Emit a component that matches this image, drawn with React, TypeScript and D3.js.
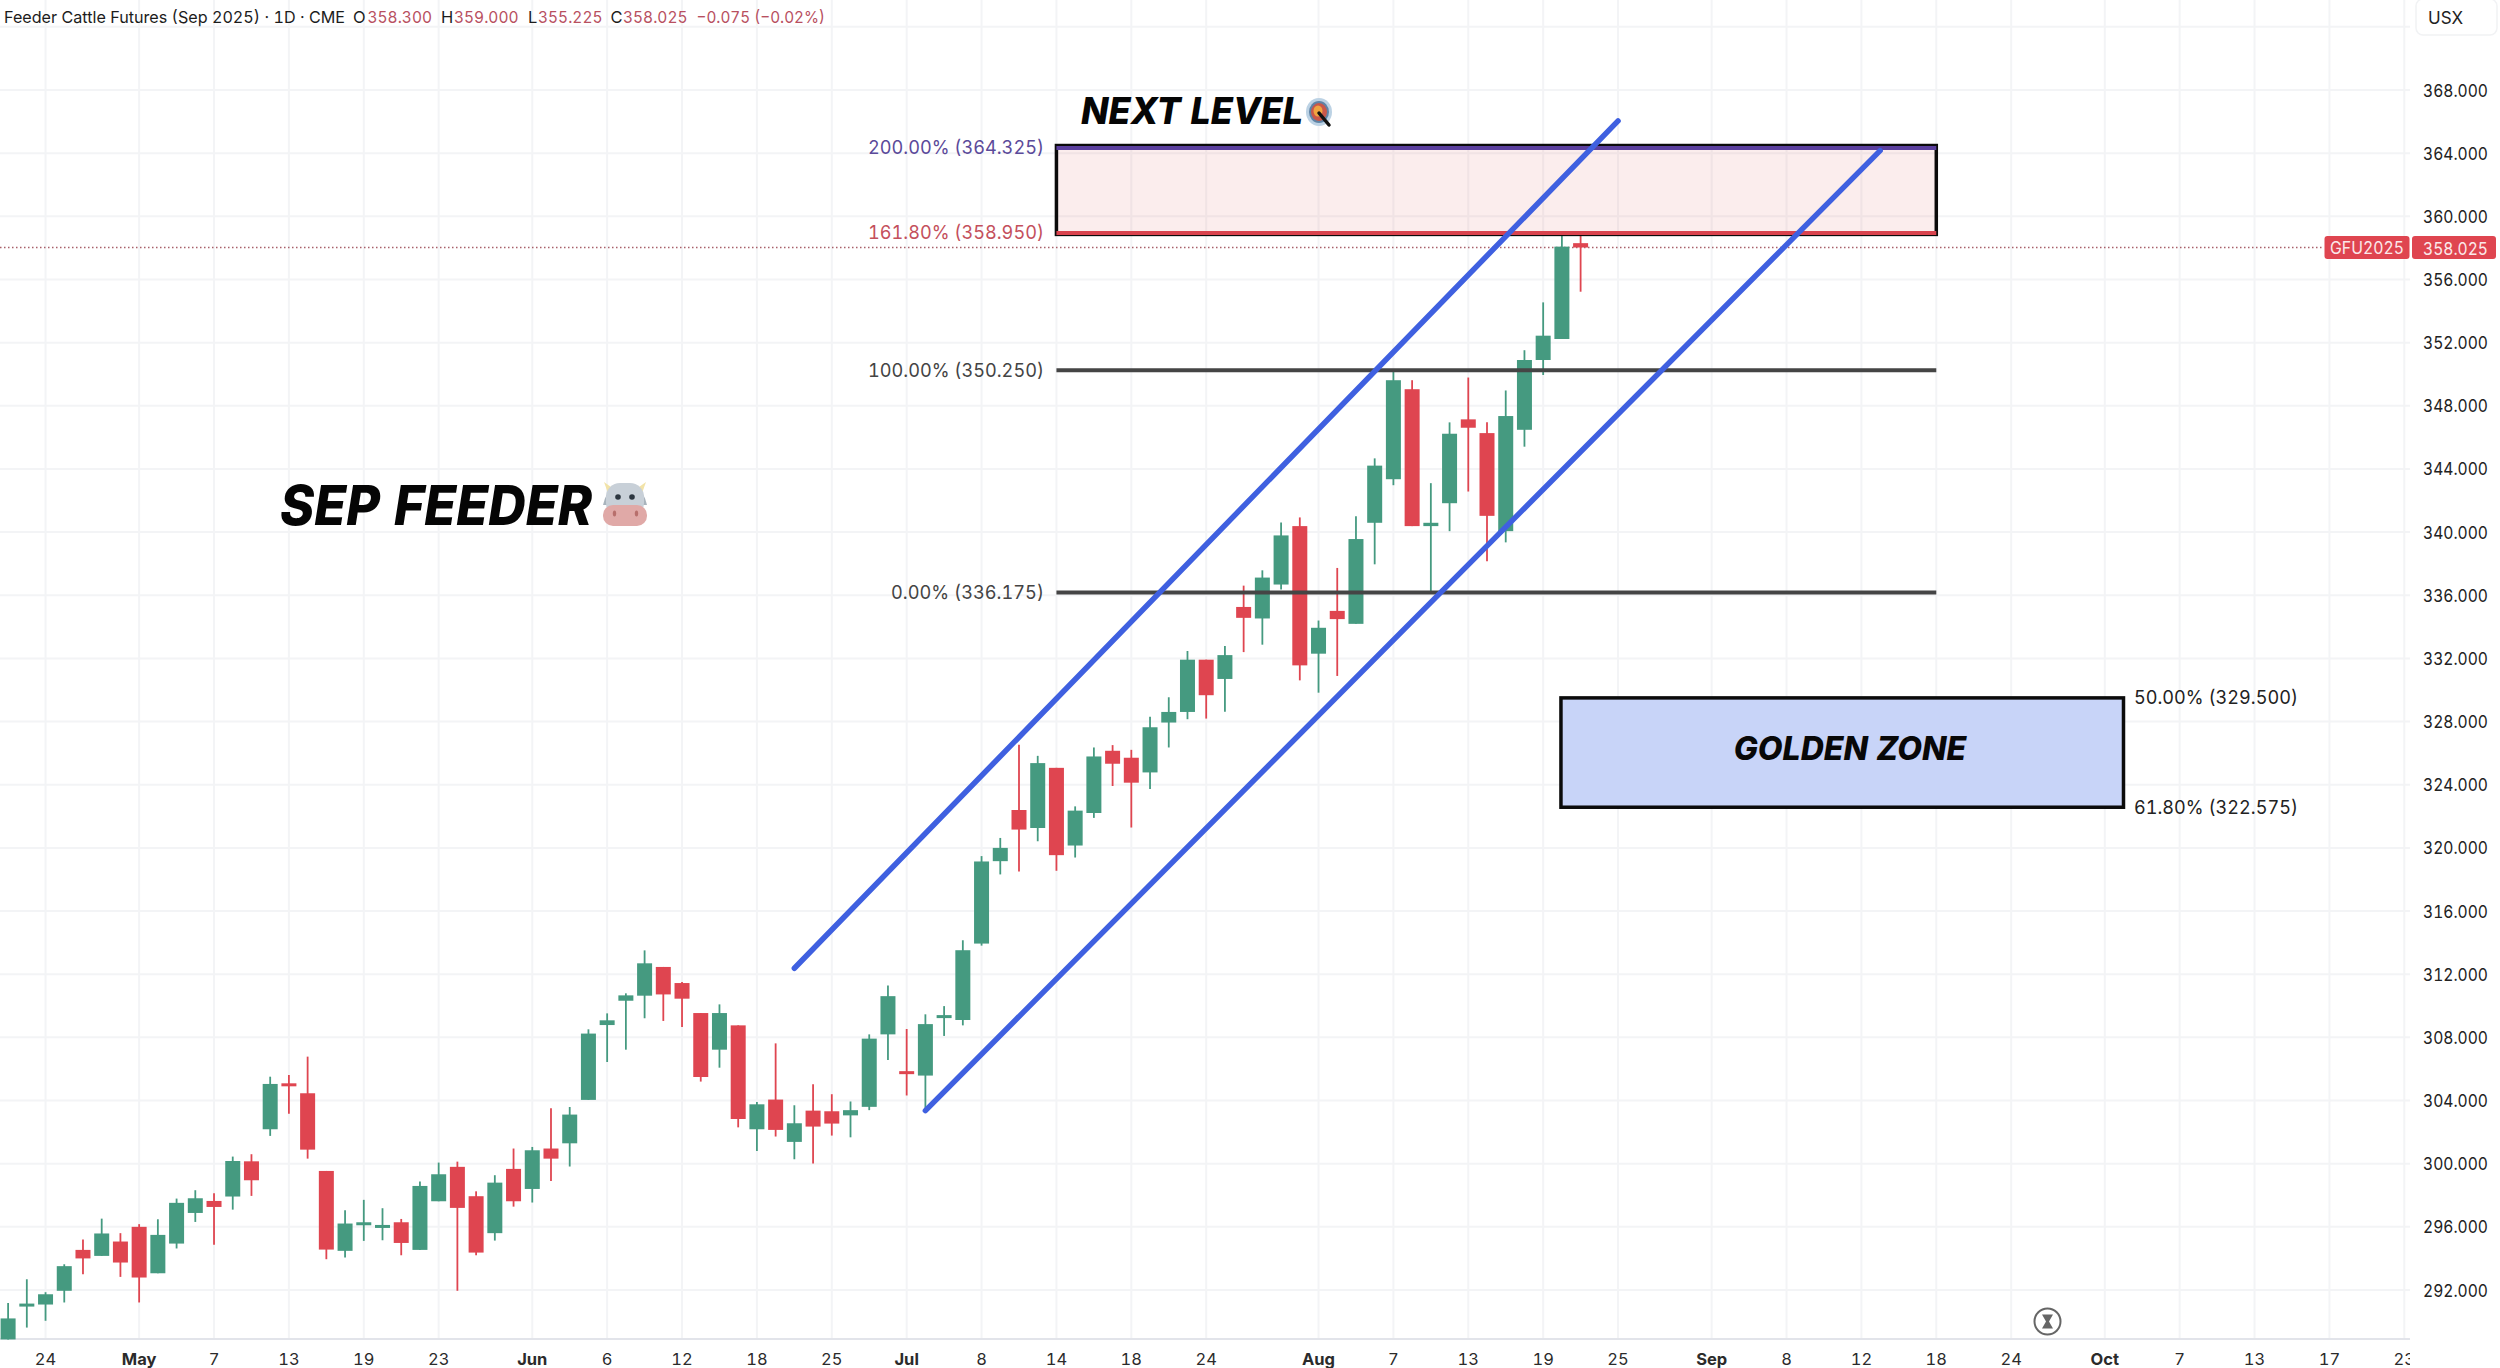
import React from "react";
import * as d3 from "d3";

const W = 2500, H = 1368;
const plotRight = 2410, axisY = 1339;

// candle values, index 0 = 22 Apr 2025 … index 84 = 21 Aug 2025
const opens = [288.87,290.98,291.08,291.95,294.54,294.16,295.07,296.0,293.06,294.94,296.88,297.64,297.92,300.15,302.18,305.09,304.46,299.54,294.48,296.23,296.04,296.29,294.54,297.62,299.8,297.94,295.6,299.67,298.4,300.96,301.29,304.04,308.78,310.32,310.64,312.46,311.44,309.54,307.22,308.76,302.18,304.06,301.38,303.36,303.32,303.06,303.6,308.19,305.86,305.58,309.37,309.1,313.94,319.16,322.4,321.26,325.07,320.15,322.21,326.15,325.71,324.78,327.94,328.61,331.92,330.7,335.26,334.53,336.68,340.38,332.3,335.01,334.19,340.59,343.35,349.05,340.38,341.83,347.14,346.27,340.06,346.48,350.9,352.23,358.3];
const closes = [290.2,291.14,291.73,293.51,294.0,295.58,293.74,292.79,295.49,297.52,297.81,297.26,300.17,298.95,305.05,305.03,300.89,294.56,296.21,296.29,296.12,294.98,298.59,299.33,297.2,294.37,298.8,297.62,300.85,300.32,303.11,308.24,309.08,310.66,312.69,310.72,310.45,305.49,309.54,302.83,303.76,302.14,302.56,302.35,302.54,303.39,307.92,310.61,305.67,308.84,309.41,313.52,319.14,320.0,321.16,325.37,319.54,322.36,325.79,325.33,324.13,327.64,328.61,331.92,329.67,332.21,334.57,337.12,339.79,331.56,333.94,334.49,339.56,344.21,349.62,340.38,340.59,346.23,346.61,341.03,347.35,350.9,352.44,358.08,358.025];
const highs = [291.17,292.68,291.86,293.63,295.2,296.52,295.6,296.17,296.48,297.79,298.32,298.13,300.45,300.6,305.51,305.62,306.78,299.54,297.05,297.71,297.18,296.5,298.87,300.07,300.13,298.25,299.27,300.96,301.06,303.51,303.59,308.51,309.52,310.79,313.51,312.46,311.5,309.54,310.09,308.76,303.91,307.62,303.7,305.03,304.4,303.94,308.19,311.29,308.53,309.46,309.98,314.15,319.48,320.63,326.53,325.83,325.07,322.63,326.36,326.51,326.21,328.3,329.54,332.47,331.92,332.78,336.61,337.58,340.61,340.93,334.4,337.73,341.01,344.67,350.15,349.62,343.1,346.95,349.79,346.95,348.97,351.52,354.55,358.95,359.0];
const lows = [288.87,289.62,290.05,291.21,293.0,294.16,292.83,291.21,293.06,294.63,296.31,294.86,297.09,297.96,301.76,303.17,300.32,293.95,294.06,295.11,295.15,294.2,294.54,297.62,291.95,294.2,295.13,297.28,297.54,298.91,299.82,304.04,306.44,307.22,309.21,309.04,308.66,305.2,306.08,302.3,300.81,301.72,300.28,300.01,301.78,301.67,303.39,306.57,304.32,303.41,308.09,308.76,313.81,318.32,318.51,320.42,318.55,319.39,321.9,323.92,321.29,323.73,326.36,328.15,328.19,328.63,332.4,332.87,336.36,330.61,329.83,330.89,334.19,337.96,342.97,340.38,336.2,340.06,342.57,338.15,339.35,345.41,349.95,352.23,355.225];

const priceTicks = [372,368,364,360,356,352,348,344,340,336,332,328,324,320,316,312,308,304,300,296,292];
const timeTickIdx = [2,7,11,15,19,23,28,32,36,40,44,48,52,56,60,64,70,74,78,82,86,91,95,99,103,107,112,116,120,124,128];
const timeTickLabels = ["24","May","7","13","19","23","Jun","6","12","18","25","Jul","8","14","18","24","Aug","7","13","19","25","Sep","8","12","18","24","Oct","7","13","17","23"];
const monthLabels = ["May","Jun","Jul","Aug","Sep","Oct"];

const channelUpperIdx = [42,86];
const channelUpperPrice = [312.38,366.04];
const channelLowerIdx = [49,100];
const channelLowerPrice = [303.36,364.16];

const fibStart = 56, fibEnd = 103;
const zoneStart = 82.95, zoneEnd = 113;
const fibTop = 364.325, fibBottom = 358.95, fibMid = 350.25, fibZero = 336.175;
const zoneTop = 329.5, zoneBottom = 322.575;
const lastPrice = 358.025;

const GREEN = "#459a80", RED = "#df4550", BLUE = "#3f60e0", DARK = "#454545";
const FONT = "Inter, 'Noto Sans', sans-serif";

const x = d3.scaleLinear().domain([0, 128]).range([8.1, 2404.3]);
const y = d3.scaleLinear().domain([368, 292]).range([90, 1290]);
const line = d3.line<[number, number]>().x(d => x(d[0])).y(d => y(d[1]));

const header: [number, string, string, number?][] = [
  [4, "Feeder Cattle Futures (Sep 2025) · 1D · CME", "#1c1c1c", 341],
  [353, "O", "#1c1c1c"], [367.5, "358.300", "#b8505f", 64.5],
  [441, "H", "#1c1c1c"], [454, "359.000", "#b8505f", 64.5],
  [528, "L", "#1c1c1c"], [538, "355.225", "#b8505f", 64.5],
  [610.5, "C", "#1c1c1c"], [623, "358.025", "#b8505f", 64.5],
  [696.5, "−0.075 (−0.02%)", "#b8505f", 128.5],
];

export default function App() {
  const bw = 15;
  return (
    <svg width={W} height={H} viewBox={`0 0 ${W} ${H}`} style={{ position: "absolute", left: 0, top: 0, display: "block", background: "#fff", fontFeatureSettings: "'tnum'" }} fontFamily={FONT}>
      <defs>
        <clipPath id="plot"><rect x={0} y={0} width={plotRight} height={H} /></clipPath>
      </defs>
      {/* grid */}
      {priceTicks.map(p => <line key={p} x1={0} x2={plotRight} y1={y(p)} y2={y(p)} stroke="#f3f4f6" strokeWidth={2} />)}
      {timeTickIdx.map(i => <line key={i} x1={x(i)} x2={x(i)} y1={0} y2={axisY} stroke="#f3f4f6" strokeWidth={2} />)}
      <line x1={0} x2={plotRight} y1={axisY} y2={axisY} stroke="#e2e4ea" strokeWidth={2} />

      {/* fib fills */}
      <rect x={x(fibStart)} width={x(fibEnd) - x(fibStart)} y={y(fibTop)} height={y(fibBottom) - y(fibTop)} fill="#d84a4a" fillOpacity={0.1} />

      {/* last price dotted */}
      <line x1={0} x2={2324} y1={y(lastPrice)} y2={y(lastPrice)} stroke="#a8606a" strokeWidth={1.5} strokeDasharray="1.5 2.5" />

      {/* candles */}
      {opens.map((o, i) => {
        const c = closes[i];
        const col = c >= o ? GREEN : RED;
        const top = y(Math.max(o, c));
        const h = Math.max(3, Math.abs(y(o) - y(c)));
        return (
          <g key={i}>
            <line x1={x(i)} x2={x(i)} y1={y(highs[i])} y2={y(lows[i])} stroke={col} strokeWidth={1.8} />
            <rect x={x(i) - bw / 2} width={bw} y={top} height={h} fill={col} />
          </g>
        );
      })}

      {/* fib lines */}
      <rect x={x(fibStart)} width={x(fibEnd) - x(fibStart)} y={y(fibTop) - 2.5} height={y(fibBottom) - y(fibTop) + 4} fill="none" stroke="#0b0b0b" strokeWidth={3.5} />
      <line x1={x(fibStart)} x2={x(fibEnd)} y1={y(fibTop)} y2={y(fibTop)} stroke="#5b3f9e" strokeWidth={4} />
      <line x1={x(fibStart)} x2={x(fibEnd)} y1={y(fibBottom)} y2={y(fibBottom)} stroke="#d9434e" strokeWidth={4} />
      <line x1={x(fibStart)} x2={x(fibEnd)} y1={y(fibMid)} y2={y(fibMid)} stroke={DARK} strokeWidth={4} />
      <line x1={x(fibStart)} x2={x(fibEnd)} y1={y(fibZero)} y2={y(fibZero)} stroke={DARK} strokeWidth={4} />

      {/* channel */}
      <path d={line([[channelUpperIdx[0], channelUpperPrice[0]], [channelUpperIdx[1], channelUpperPrice[1]]])!} stroke={BLUE} strokeWidth={5.5} strokeLinecap="round" fill="none" />
      <path d={line([[channelLowerIdx[0], channelLowerPrice[0]], [channelLowerIdx[1], channelLowerPrice[1]]])!} stroke={BLUE} strokeWidth={5.5} strokeLinecap="round" fill="none" />

      {/* fib labels */}
      <g fontSize={19} dominantBaseline="central">
        <text x={868} y={y(fibTop) - 1} textLength={176} lengthAdjust="spacingAndGlyphs" fill="#5b4a9a">200.00% (364.325)</text>
        <text x={868} y={y(fibBottom)} textLength={176} lengthAdjust="spacingAndGlyphs" fill="#c4505c">161.80% (358.950)</text>
        <text x={868} y={y(fibMid)} textLength={176} lengthAdjust="spacingAndGlyphs" fill="#444">100.00% (350.250)</text>
        <text x={891} y={y(fibZero)} textLength={153} lengthAdjust="spacingAndGlyphs" fill="#444">0.00% (336.175)</text>
      </g>

      {/* golden zone */}
      <rect x={x(zoneStart)} width={x(zoneEnd) - x(zoneStart)} y={y(zoneTop)} height={y(zoneBottom) - y(zoneTop)} fill="#c8d4f8" stroke="#0b0b0b" strokeWidth={3.5} />
      <text x={1850} y={760} fontSize={32} fontWeight={800} fontStyle="italic" textAnchor="middle" fill="#080808">GOLDEN ZONE</text>
      <g fontSize={19} dominantBaseline="central" fill="#222">
        <text x={2134} y={y(zoneTop)} textLength={164} lengthAdjust="spacingAndGlyphs">50.00% (329.500)</text>
        <text x={2134} y={y(zoneBottom)} textLength={164} lengthAdjust="spacingAndGlyphs">61.80% (322.575)</text>
      </g>

      {/* big titles */}
      <text x={280} y={525} fontSize={55} fontWeight={800} fontStyle="italic" fill="#050505" textLength={312} lengthAdjust="spacingAndGlyphs">SEP FEEDER</text>
      <text x={1081} y={124} fontSize={37} fontWeight={800} fontStyle="italic" fill="#050505" textLength={222} lengthAdjust="spacingAndGlyphs">NEXT LEVEL</text>

      {/* cow */}
      <g>
        <path d="M604 482 L611 487 L609 496 Z" fill="#f2e3a8" />
        <path d="M646 482 L639 487 L641 496 Z" fill="#f2e3a8" />
        <path d="M603 505 Q606 492 612 490 L612 505 Z" fill="#a9b4bd" />
        <path d="M647 505 Q644 492 638 490 L638 505 Z" fill="#a9b4bd" />
        <rect x={606} y={483} width={38} height={34} rx={14} fill="#c8d0d8" />
        <circle cx={618} cy={497} r={2.8} fill="#2c3640" />
        <circle cx={632} cy={497} r={2.8} fill="#2c3640" />
        <rect x={603} y={505} width={44} height={21} rx={10} fill="#e0a9a7" />
        <ellipse cx={614.5} cy={513.5} rx={1.7} ry={3} fill="#b86f6c" />
        <ellipse cx={636.5} cy={513.5} rx={1.7} ry={3} fill="#b86f6c" />
      </g>

      {/* target */}
      <g>
        <ellipse cx={1319} cy={112} rx={13} ry={14} fill="#bcd2e4" />
        <ellipse cx={1319} cy={112} rx={10} ry={11} fill="#5f83a5" />
        <ellipse cx={1319} cy={112} rx={8} ry={9} fill="#c9574a" />
        <ellipse cx={1318} cy={111} rx={4.5} ry={5.5} fill="#f0a440" />
        <line x1={1319} y1={113} x2={1329} y2={125} stroke="#111" strokeWidth={3.5} strokeLinecap="round" />
      </g>

      {/* price axis */}
      <g fontSize={17.5} dominantBaseline="central" fill="#222">
        {priceTicks.slice(1).map(p => <text key={p} x={2423} y={y(p)} textLength={65} lengthAdjust="spacingAndGlyphs">{d3.format(".3f")(p)}</text>)}
      </g>
      <rect x={2416} y={-1} width={81} height={36} rx={7} fill="#fff" stroke="#f1f2f4" strokeWidth={1.5} />
      <text x={2428} y={18} fontSize={17} dominantBaseline="central" fill="#222">USX</text>

      {/* last price labels */}
      <rect x={2324.5} y={236} width={85} height={23} rx={3} fill={RED} />
      <rect x={2412} y={236} width={84} height={23} rx={3} fill={RED} />
      <text x={2330} y={248} fontSize={17} textLength={74} lengthAdjust="spacingAndGlyphs" dominantBaseline="central" fill="#fbe9ea">GFU2025</text>
      <text x={2423} y={248} fontSize={17.5} textLength={65} lengthAdjust="spacingAndGlyphs" dominantBaseline="central" fill="#fbe9ea">{d3.format(".3f")(lastPrice)}</text>

      {/* time axis */}
      <g clipPath="url(#plot)" fontSize={16.5} textAnchor="middle" dominantBaseline="central" fill="#2b2b2b">
        {timeTickIdx.map((i, k) => (
          <text key={i} x={x(i)} y={1359} fontWeight={monthLabels.includes(timeTickLabels[k]) ? 700 : 400}>{timeTickLabels[k]}</text>
        ))}
      </g>

      {/* hourglass */}
      <g>
        <circle cx={2047.5} cy={1321.5} r={13} fill="none" stroke="#666" strokeWidth={2} />
        <path d="M2042 1314.5 H2053 L2049 1321.5 L2053 1328.5 H2042 L2046 1321.5 Z" fill="#666" />
      </g>

      {/* header */}
      <g fontSize={16.5} dominantBaseline="central">
        {header.map(([hx, t, c, tl], i) => <text key={i} x={hx} y={17} fill={c} textLength={tl} lengthAdjust={tl ? "spacingAndGlyphs" : undefined}>{t}</text>)}
      </g>
    </svg>
  );
}
